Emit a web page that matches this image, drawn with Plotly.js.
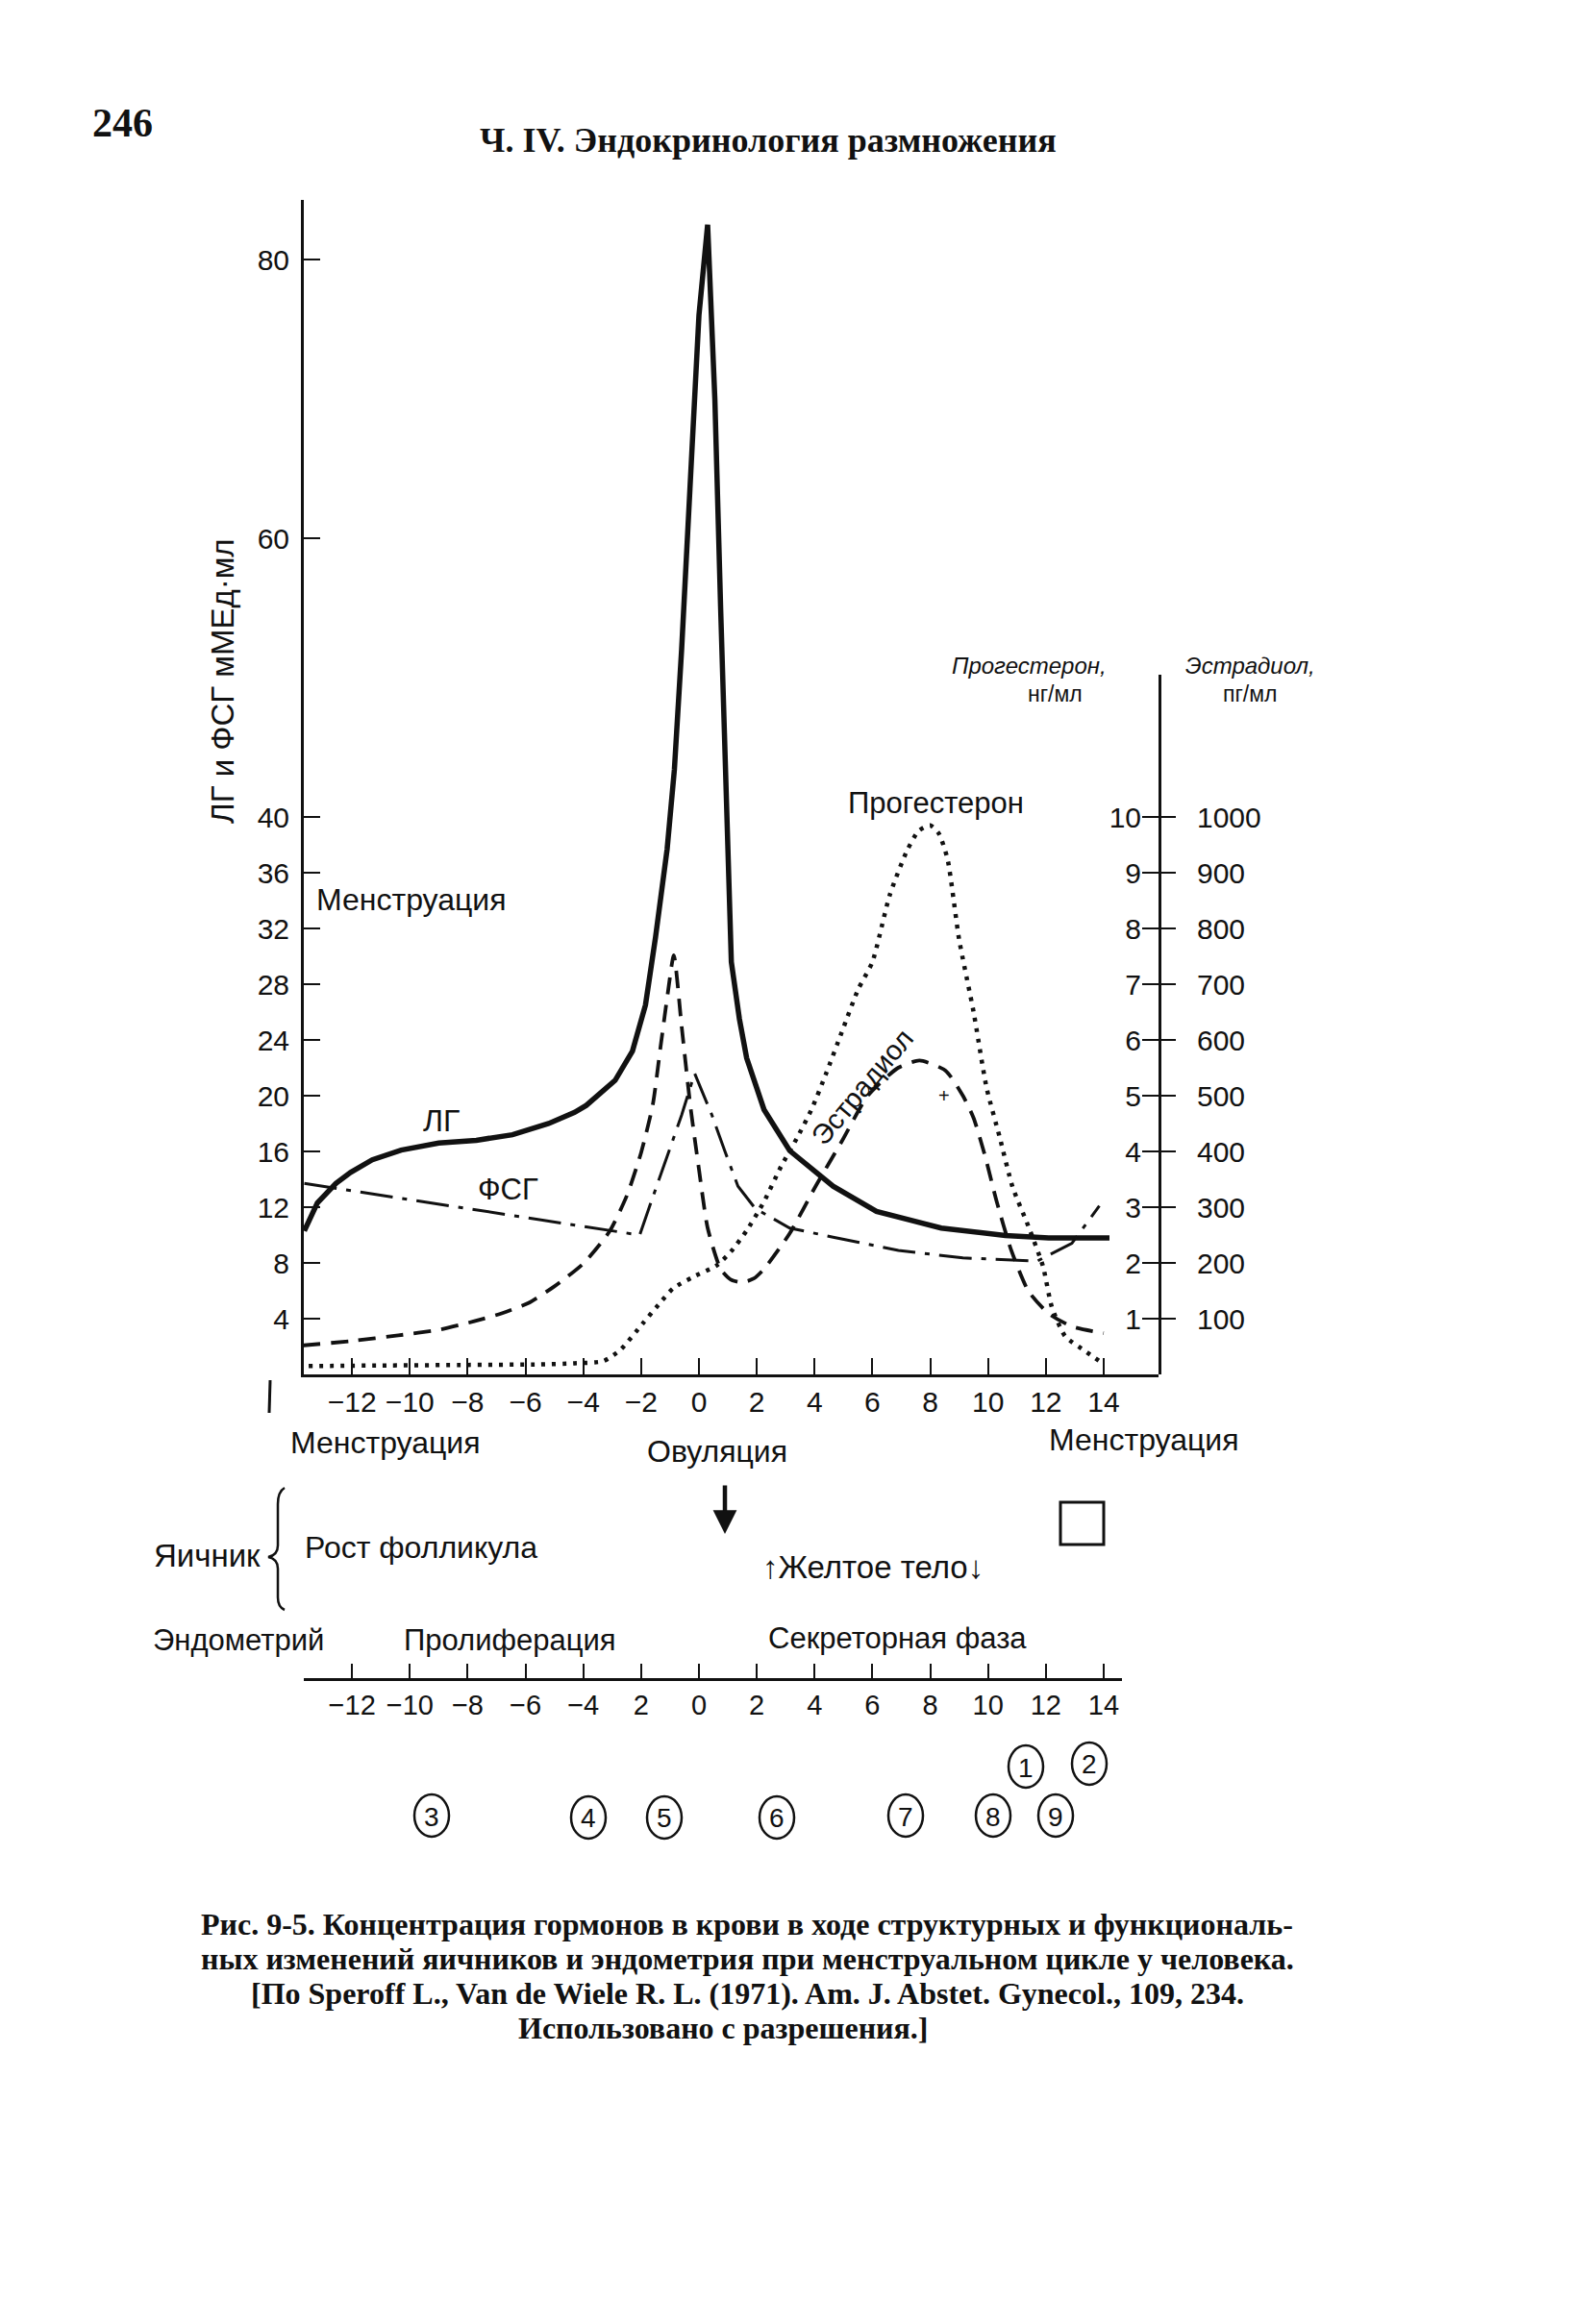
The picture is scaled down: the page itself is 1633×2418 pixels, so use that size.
<!DOCTYPE html>
<html><head><meta charset="utf-8">
<script src="https://cdn.plot.ly/plotly-3.0.1.min.js"></script>
<style>html,body{margin:0;padding:0;background:#fff;}#chart{width:1633px;height:2418px;}</style>
</head><body><div id="chart"></div>
<script>
// ---------------- DATA ----------------
const lhDays = [-13.65,-13.2,-12.56,-12.05,-11.3,-10.3,-9.0,-7.7,-6.45,-5.2,-4.3,-3.9,-2.9,-2.3,-1.85,-1.5,-1.1,-0.85,-0.6,-0.3,0.0,0.3,0.55,0.75,0.95,1.12,1.4,1.65,2.25,3.14,4.64,6.14,8.38,10.6,12.1,14.2];
const lhValues = [10.3,12.3,13.7,14.5,15.4,16.1,16.6,16.8,17.2,18.0,18.8,19.3,21.1,23.2,26.5,31.4,37.7,43.4,52,64,76,82.5,70,55,40,29.6,25.5,22.7,19.0,16.05,13.5,11.7,10.5,9.97,9.8,9.8];

const fshDays = [-13.65,-2.05,-1.6,-1.1,-0.6,-0.15,0.45,0.9,1.35,1.95,3.14,4.64,6.9,9.13,10.6,11.7,12.9,13.85];
const fshValues = [13.7,10.0,12.7,15.6,18.6,21.6,18.6,16.0,13.5,11.9,10.5,9.85,8.9,8.36,8.24,8.13,9.4,12.1];

const estradiolDays = [-13.7,-12,-10.4,-9,-7.8,-6.8,-5.9,-5.0,-4.0,-3.1,-2.5,-2.0,-1.6,-1.34,-1.08,-0.87,-0.6,-0.3,0.0,0.3,0.75,1.1,1.5,1.9,2.25,3.14,4.04,4.94,5.84,6.89,7.63,8.53,9.13,9.5,9.88,10.3,10.8,11.4,12.1,12.9,14.0];
const estradiolValues = [52,60,70,80,95,110,128,158,199,256,320,398,483,583,683,752,625,483,368,263,189,170,165,172,189,253,338,418,500,550,563,545,500,460,395,310,223,149,109,86,74]; // pg/ml

const progesteroneDays = [-13.5,-11,-8,-5.5,-4.3,-3.3,-2.7,-1.95,-1.4,-0.9,-0.2,0.6,1.1,1.65,2.25,2.84,3.4,3.9,4.4,4.94,5.5,6.0,6.6,7.2,7.6,8.0,8.3,8.6,9.0,9.5,9.95,10.4,10.85,11.4,11.9,12.2,12.66,13.35,13.85];
const progesteroneValues = [0.15,0.16,0.17,0.18,0.2,0.24,0.45,0.91,1.25,1.54,1.75,1.95,2.2,2.58,3.1,3.73,4.25,4.76,5.4,6.14,6.9,7.4,8.6,9.4,9.75,9.85,9.7,9.24,7.8,6.5,5.14,4.26,3.36,2.65,1.94,1.22,0.69,0.42,0.24]; // ng/ml

const dayTicks = [-12,-10,-8,-6,-4,-2,0,2,4,6,8,10,12,14];
const dayTickText = ['−12','−10','−8','−6','−4','−2','0','2','4','6','8','10','12','14'];
const phaseTickText = ['−12','−10','−8','−6','−4','2','0','2','4','6','8','10','12','14'];
const gonadotropinTicks = [4,8,12,16,20,24,28,32,36,40,60,80];
const progesteroneTicks = [1,2,3,4,5,6,7,8,9,10];
const estradiolTicks = [100,200,300,400,500,600,700,800,900,1000];
const circleLabels = ['1','2','3','4','5','6','7','8','9'];
const captionLines = [
  'Рис. 9-5. Концентрация гормонов в крови в ходе структурных и функциональ-',
  'ных изменений яичников и эндометрия при менструальном цикле у человека.',
  '[По Speroff L., Van de Wiele R. L. (1971). Am. J. Abstet. Gynecol., 109, 234.',
  'Использовано с разрешения.]'
];

// ---------------- GEOMETRY ----------------
const W = 1633, H = 2418;
const px = v => v / W, py = v => 1 - v / H;
const PLOT_L = 316, PLOT_R = 1205, PLOT_B = 1430, PLOT_T = 208, RIGHT_T = 702;
const DAY0 = 727, PX_DAY = 30.07, PX_UNIT = 14.5, PROG_FACTOR = 4;
const PHASE_Y = 1747, PHASE_R = 1167;
const xRange = [(PLOT_L - DAY0) / PX_DAY, (PLOT_R - DAY0) / PX_DAY];
const yTop = (PLOT_B - PLOT_T) / PX_UNIT;
const y2Top = (PLOT_B - RIGHT_T) / PX_UNIT / PROG_FACTOR;

const SANS = 'Liberation Sans, Arial, sans-serif';
const SERIF = 'Liberation Serif, Times New Roman, serif';
const BLACK = '#111';

const traces = [
  {x: lhDays, y: lhValues, xaxis:'x', yaxis:'y', mode:'lines', line:{color:BLACK, width:5.5}, hoverinfo:'skip'},
  {x: fshDays, y: fshValues, xaxis:'x', yaxis:'y', mode:'lines', line:{color:BLACK, width:3, dash:'34px,10px,5px,10px'}, hoverinfo:'skip'},
  {x: estradiolDays, y: estradiolValues, xaxis:'x', yaxis:'y3', mode:'lines', line:{color:BLACK, width:3.8, dash:'18px,11px', shape:'spline', smoothing:0.6}, hoverinfo:'skip'},
  {x: progesteroneDays, y: progesteroneValues, xaxis:'x', yaxis:'y2', mode:'lines', line:{color:BLACK, width:4.5, dash:'4px,7px', shape:'spline', smoothing:0.6}, hoverinfo:'skip'},
  {x: dayTicks, y: dayTicks.map(() => 0), xaxis:'x2', yaxis:'y', mode:'markers', marker:{opacity:0}, hoverinfo:'skip'}
];

function txt(text, x, y, size, extra) {
  return Object.assign({xref:'paper', yref:'paper', x: px(x), y: py(y), text, showarrow:false,
    xanchor:'center', yanchor:'middle', font:{family:SANS, size, color:BLACK}}, extra || {});
}
function dtxt(text, x, y, size, extra) {
  return Object.assign({xref:'x', yref:'y', x, y, text, showarrow:false,
    xanchor:'center', yanchor:'middle', font:{family:SANS, size, color:BLACK}}, extra || {});
}

const circlePos = [[1067,1838],[1133,1835],[449,1889],[612,1891],[691,1891],[808,1891],[942,1889],[1033,1889],[1098,1889]];
const captionPos = [[777,2002],[777,2038],[777,2074],[752,2110]];

const annotations = [
  txt('<b>246</b>', 127, 128, 42, {font:{family:SERIF, size:42, color:BLACK}}),
  txt('<b>Ч. IV. Эндокринология размножения</b>', 799, 146, 36, {font:{family:SERIF, size:36, color:BLACK}}),
  txt('ЛГ и ФСГ мМЕд·мл', 231, 709, 33, {textangle:-90}),
  dtxt('Менструация', -13.3, 34.1, 32, {xanchor:'left'}),
  dtxt('ЛГ', -8.9, 18.2, 32),
  dtxt('ФСГ', -6.6, 13.3, 31),
  dtxt('Прогестерон', 8.2, 41, 31),
  dtxt('Эстрадиол', 5.65, 20.6, 29, {textangle:-50}),
  dtxt('+', 8.47, 20, 20),
  txt('<i>Прогестерон,</i>', 1070, 692, 24),
  txt('нг/мл', 1097, 722, 23),
  txt('<i>Эстрадиол,</i>', 1300, 692, 24),
  txt('пг/мл', 1300, 722, 23),
  txt('Менструация', 401, 1501, 32),
  txt('Овуляция', 746, 1510, 32),
  txt('Менструация', 1190, 1498, 32),
  txt('Яичник', 273, 1618, 33, {xanchor:'right'}),
  txt('Рост фолликула', 438, 1610, 32),
  txt('<b>↑</b>Желтое тело<b>↓</b>', 908, 1630, 33),
  txt('Эндометрий', 248, 1706, 31),
  txt('Пролиферация', 530, 1707, 31),
  txt('Секреторная фаза', 933, 1704, 31),
  {xref:'paper', yref:'paper', x:px(754), y:py(1596), ax:0, ay:-52, showarrow:true, arrowhead:2, arrowsize:1.1, arrowwidth:4.5, arrowcolor:BLACK, text:''}
];
captionLines.forEach((line, i) => annotations.push(
  txt('<b>' + line + '</b>', captionPos[i][0], captionPos[i][1], 32, {font:{family:SERIF, size:32, color:BLACK}})));
circleLabels.forEach((lab, i) => annotations.push(txt(lab, circlePos[i][0], circlePos[i][1] + 1, 28)));

const shapes = [
  {type:'rect', xref:'paper', yref:'paper', x0:px(1103), x1:px(1148), y0:py(1607), y1:py(1563), line:{color:BLACK, width:3}},
  {type:'line', xref:'paper', yref:'paper', x0:px(281), x1:px(280), y0:py(1436), y1:py(1470), line:{color:BLACK, width:3}},
  {type:'path', xref:'paper', yref:'paper', line:{color:BLACK, width:2.5},
   path: `M ${px(296)} ${py(1548)} Q ${px(289)} ${py(1552)} ${px(289)} ${py(1565)} L ${px(289)} ${py(1608)} Q ${px(289)} ${py(1618)} ${px(279)} ${py(1620)} Q ${px(289)} ${py(1622)} ${px(289)} ${py(1632)} L ${px(289)} ${py(1662)} Q ${px(289)} ${py(1672)} ${px(296)} ${py(1675)}`}
];
circlePos.forEach(p => shapes.push({type:'circle', xref:'paper', yref:'paper', xsizemode:'pixel', ysizemode:'pixel',
  xanchor:px(p[0]), yanchor:py(p[1]), x0:-18, x1:18, y0:-22, y1:22, line:{color:BLACK, width:2.5}}));

const axisBase = {showgrid:false, zeroline:false, showline:true, linecolor:BLACK, tickcolor:BLACK, fixedrange:true};

const layout = {
  width: W, height: H, margin:{l:0, r:0, t:0, b:0}, paper_bgcolor:'#fff', plot_bgcolor:'rgba(0,0,0,0)',
  showlegend:false,
  xaxis: Object.assign({}, axisBase, {domain:[px(PLOT_L), px(PLOT_R)], range:xRange, anchor:'y',
    tickvals:dayTicks, ticktext:dayTickText, ticks:'inside', ticklen:17, tickwidth:2, linewidth:3,
    tickfont:{family:SANS, size:30, color:BLACK}, ticklabelstandoff:0}),
  yaxis: Object.assign({}, axisBase, {domain:[py(PLOT_B), py(PLOT_T)], range:[0, yTop], anchor:'x', side:'left',
    tickvals:gonadotropinTicks, ticks:'inside', ticklen:17, tickwidth:2, linewidth:3,
    tickfont:{family:SANS, size:30, color:BLACK}, ticklabelstandoff:6}),
  yaxis2: Object.assign({}, axisBase, {domain:[py(PLOT_B), py(RIGHT_T)], range:[0, y2Top], anchor:'x', side:'right',
    tickvals:progesteroneTicks, ticks:'inside', ticklen:17, tickwidth:2, linewidth:3, ticklabelposition:'inside',
    tickfont:{family:SANS, size:30, color:BLACK}, ticklabelstandoff:4}),
  yaxis3: Object.assign({}, axisBase, {overlaying:'y2', range:[0, y2Top * 100], anchor:'x', side:'right', showline:false,
    tickvals:estradiolTicks, ticks:'outside', ticklen:17, tickwidth:2,
    tickfont:{family:SANS, size:30, color:BLACK}, ticklabelstandoff:16}),
  xaxis2: Object.assign({}, axisBase, {domain:[px(PLOT_L), px(PHASE_R)], range:[xRange[0], (PHASE_R - DAY0) / PX_DAY],
    anchor:'free', position:py(PHASE_Y), tickvals:dayTicks, ticktext:phaseTickText, ticks:'inside', ticklen:15, tickwidth:2, linewidth:3,
    tickfont:{family:SANS, size:29, color:BLACK}, ticklabelstandoff:0}),
  annotations, shapes
};

Plotly.newPlot('chart', traces, layout, {staticPlot:true, displayModeBar:false});
</script></body></html>
